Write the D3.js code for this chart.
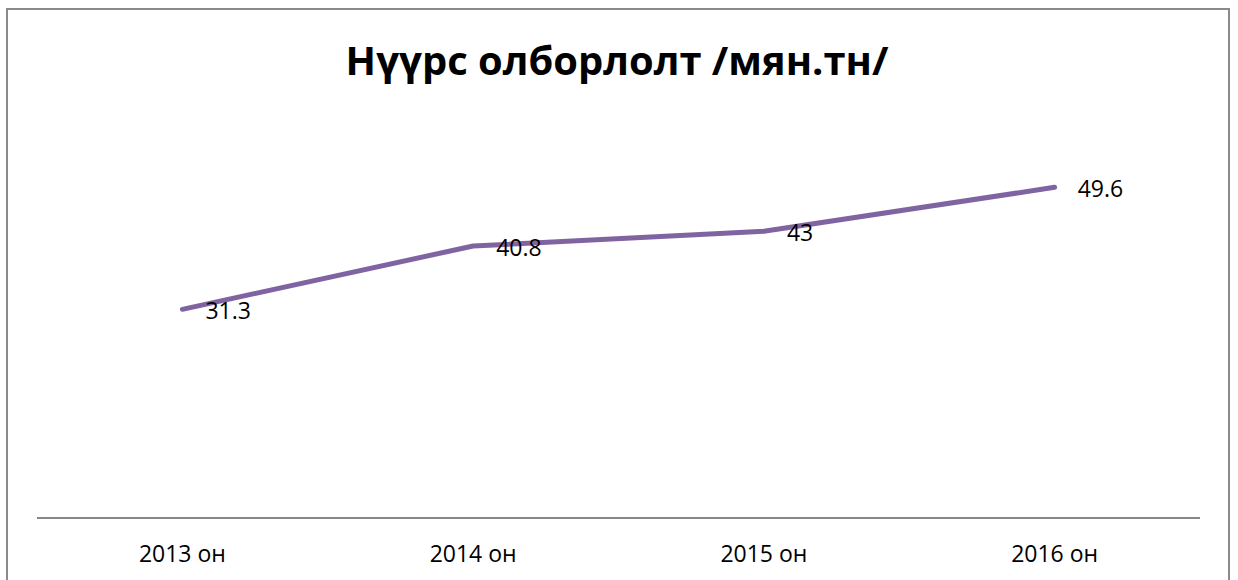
<!DOCTYPE html>
<html>
<head>
<meta charset="utf-8">
<script src="https://cdn.jsdelivr.net/npm/d3@7"></script>
<style>
  html, body { margin: 0; padding: 0; background: #fff; }
  svg { display: block; }
</style>
</head>
<body>
<script>
const categories = ["2013 он", "2014 он", "2015 он", "2016 он"];
const values = [31.3, 40.8, 43, 49.6];
const valueLabels = ["31.3", "40.8", "43", "49.6"];
const titleText = "Нүүрс олборлолт /мян.тн/";

const W = 1238, H = 580;
const svg = d3.select("body").append("svg").attr("width", W).attr("height", H);

// outer frame (no bottom edge visible – clipped)
svg.append("path")
  .attr("d", `M7,${H + 5} L7,9 L1229,9 L1229,${H + 5}`)
  .attr("fill", "none").attr("stroke", "#8a8a8a").attr("stroke-width", 2);

const x = d3.scaleBand().domain(categories).range([37, 1200]);
const y = d3.scaleLinear().domain([0, 60]).range([518, 118]);

// title
const title = svg.append("text")
  .attr("x", 617).attr("y", 75)
  .attr("text-anchor", "middle")
  .attr("font-family", "'Open Sans', sans-serif")
  .attr("font-weight", "bold")
  .attr("font-size", 42)
  .attr("fill", "#000")
  .text(titleText);
const tw = title.node().getComputedTextLength();
if (tw > 0) title.attr("font-size", 42 * 543 / tw);

// x axis
const xAxis = svg.append("g")
  .attr("transform", `translate(0,${y(0)})`)
  .call(d3.axisBottom(x).tickSize(0).tickPadding(0));
xAxis.select(".domain").attr("stroke", "#868686").attr("stroke-width", 2)
  .attr("d", `M37,0H1200`);
xAxis.selectAll(".tick text")
  .attr("y", 44).attr("dy", null)
  .attr("font-family", "'Open Sans', sans-serif")
  .attr("font-size", 23)
  .attr("fill", "#000");

const cx = d => x(d) + x.bandwidth() / 2;

// line
const line = d3.line()
  .x((d, i) => cx(categories[i]))
  .y(d => y(d));
svg.append("path")
  .datum(values)
  .attr("d", line)
  .attr("fill", "none")
  .attr("stroke", "#8064A2")
  .attr("stroke-width", 5)
  .attr("stroke-linecap", "round")
  .attr("stroke-linejoin", "round");

// data labels
svg.selectAll("text.lbl")
  .data(values)
  .enter().append("text")
  .attr("class", "lbl")
  .attr("x", (d, i) => cx(categories[i]) + 23)
  .attr("y", d => y(d) + 10)
  .attr("font-family", "'Open Sans', sans-serif")
  .attr("font-size", 23)
  .attr("fill", "#000")
  .text((d, i) => valueLabels[i]);
</script>
</body>
</html>
